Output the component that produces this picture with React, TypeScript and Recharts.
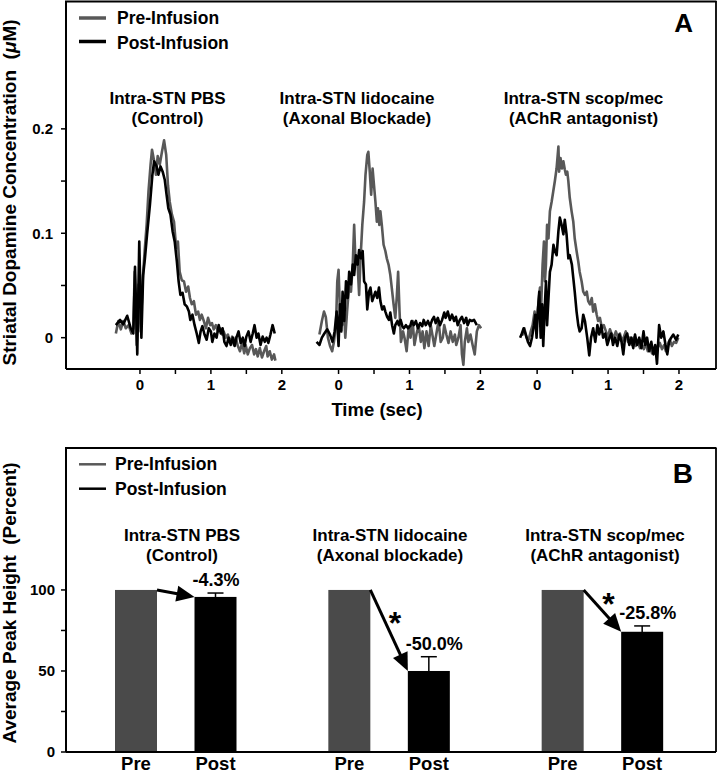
import React from 'react';
import { LineChart, Line, XAxis, YAxis, BarChart, Bar, ErrorBar } from 'recharts';

const FONT = '"Liberation Sans", Arial, Helvetica, sans-serif';
const PRE_LINE = '#585858';
const PRE_BAR = '#4a4a4a';
const POST = '#000000';

type Pt = [number, number];

// ---------- Panel A: striatal dopamine traces (time sec, concentration µM) ----------
const pbsPre: Pt[] = [
  [-0.34, 0.004], [-0.305, 0.016], [-0.27, 0.008], [-0.235, 0.016], [-0.2, 0.009], [-0.16, 0.012], [-0.12, 0.004],
  [-0.094, 0.009], [-0.075, 0.063], [-0.047, -0.007], [-0.02, 0.051], [0.01, 0.006], [0.04, 0.057], [0.066, 0.083],
  [0.094, 0.108], [0.12, 0.14], [0.15, 0.166], [0.17, 0.18], [0.2, 0.169], [0.225, 0.156], [0.25, 0.174], [0.28, 0.166],
  [0.31, 0.178], [0.34, 0.189], [0.37, 0.175], [0.395, 0.146], [0.42, 0.13], [0.45, 0.118], [0.48, 0.111], [0.51, 0.086],
  [0.535, 0.092], [0.56, 0.063], [0.59, 0.055], [0.62, 0.054], [0.65, 0.044], [0.68, 0.049], [0.705, 0.038], [0.73, 0.032],
  [0.76, 0.035], [0.79, 0.022], [0.82, 0.025], [0.845, 0.017], [0.87, 0.022], [0.9, 0.016], [0.93, 0.009], [0.96, 0.019],
  [0.99, 0.012], [1.015, 0.014], [1.04, 0.008], [1.07, 0.012], [1.1, 0.006], [1.13, 0.009], [1.16, 0.003], [1.18, 0.006],
  [1.21, 0.0], [1.24, 0.003], [1.27, -0.005], [1.3, 0.001], [1.325, -0.007], [1.35, 0.0], [1.38, -0.008], [1.41, -0.013],
  [1.44, -0.005], [1.47, -0.015], [1.49, -0.007], [1.52, -0.016], [1.55, -0.01], [1.58, -0.007], [1.61, -0.016],
  [1.635, -0.011], [1.66, -0.018], [1.69, -0.01], [1.72, -0.019], [1.75, -0.013], [1.78, -0.008], [1.8, -0.018],
  [1.83, -0.013], [1.86, -0.021], [1.89, -0.016], [1.91, -0.022],
];
const pbsPost: Pt[] = [
  [-0.34, 0.012], [-0.28, 0.017], [-0.235, 0.013], [-0.18, 0.021], [-0.13, 0.009], [-0.094, 0.004], [-0.07, 0.068],
  [-0.038, -0.016], [-0.01, 0.092], [0.02, 0.0], [0.045, 0.06], [0.07, 0.076], [0.1, 0.099], [0.14, 0.127], [0.175, 0.156],
  [0.2, 0.169], [0.235, 0.164], [0.26, 0.156], [0.29, 0.164], [0.32, 0.159], [0.35, 0.151], [0.375, 0.137], [0.4, 0.124],
  [0.43, 0.118], [0.46, 0.102], [0.49, 0.092], [0.52, 0.073], [0.545, 0.054], [0.57, 0.041], [0.6, 0.043], [0.63, 0.032],
  [0.66, 0.03], [0.69, 0.025], [0.71, 0.017], [0.74, 0.022], [0.77, 0.012], [0.8, 0.004], [0.83, -0.005], [0.855, 0.006],
  [0.88, 0.011], [0.91, 0.003], [0.94, -0.002], [0.97, 0.009], [1.0, 0.006], [1.02, -0.004], [1.05, 0.004], [1.08, 0.0],
  [1.11, 0.012], [1.14, 0.004], [1.165, 0.009], [1.19, -0.004], [1.22, -0.008], [1.25, 0.0], [1.28, -0.007], [1.31, 0.0],
  [1.335, -0.008], [1.36, 0.0], [1.39, 0.006], [1.42, -0.005], [1.45, 0.0], [1.475, -0.008], [1.5, 0.001], [1.53, 0.006],
  [1.56, -0.004], [1.59, 0.004], [1.615, 0.012], [1.645, 0.0], [1.67, 0.004], [1.7, -0.007], [1.73, 0.001], [1.76, -0.004],
  [1.785, 0.0], [1.81, -0.005], [1.84, 0.003], [1.87, 0.012], [1.9, 0.004],
];
const lidoPre: Pt[] = [
  [-0.27, 0.003], [-0.235, 0.016], [-0.205, 0.025], [-0.18, 0.02], [-0.15, 0.0], [-0.12, -0.008], [-0.09, -0.013],
  [-0.065, -0.004], [-0.036, 0.012], [-0.018, 0.054], [0.0, 0.065], [0.02, 0.025], [0.05, 0.012], [0.07, 0.038],
  [0.095, 0.0], [0.12, 0.025], [0.15, 0.051], [0.175, 0.044], [0.2, 0.07], [0.22, 0.108], [0.24, 0.07], [0.265, 0.076],
  [0.29, 0.041], [0.31, 0.076], [0.335, 0.108], [0.36, 0.13], [0.38, 0.156], [0.405, 0.175], [0.42, 0.178], [0.44, 0.159],
  [0.46, 0.137], [0.48, 0.162], [0.5, 0.146], [0.52, 0.13], [0.54, 0.111], [0.555, 0.124], [0.575, 0.108], [0.59, 0.121],
  [0.61, 0.108], [0.635, 0.089], [0.66, 0.083], [0.68, 0.076], [0.705, 0.07], [0.73, 0.06], [0.75, 0.048], [0.776, 0.032],
  [0.8, 0.019], [0.82, 0.038], [0.84, 0.063], [0.86, 0.025], [0.88, -0.004], [0.91, 0.006], [0.93, 0.0], [0.96, -0.013],
  [0.99, 0.011], [1.015, 0.0], [1.045, 0.016], [1.07, -0.007], [1.1, 0.004], [1.13, 0.012], [1.16, -0.004], [1.185, 0.006],
  [1.21, -0.01], [1.24, 0.006], [1.27, -0.008], [1.3, 0.012], [1.33, 0.0], [1.35, -0.008], [1.38, 0.004], [1.41, 0.016],
  [1.44, -0.004], [1.47, 0.0], [1.49, 0.012], [1.52, 0.003], [1.55, -0.005], [1.58, 0.006], [1.61, -0.004], [1.64, 0.003],
  [1.66, -0.007], [1.69, 0.0], [1.72, 0.012], [1.74, -0.016], [1.76, -0.026], [1.78, -0.004], [1.81, 0.009], [1.83, -0.004],
  [1.86, 0.003], [1.89, -0.007], [1.92, -0.016], [1.95, 0.006], [1.98, 0.012], [2.01, 0.009],
];
const lidoPost: Pt[] = [
  [-0.31, -0.004], [-0.27, -0.007], [-0.235, 0.0], [-0.2, 0.004], [-0.16, 0.008], [-0.12, 0.003], [-0.085, -0.004],
  [-0.055, 0.006], [-0.027, 0.025], [0.0, -0.008], [0.02, 0.032], [0.04, 0.006], [0.057, 0.044], [0.08, 0.016],
  [0.105, 0.054], [0.13, 0.038], [0.15, 0.063], [0.175, 0.051], [0.2, 0.07], [0.22, 0.06], [0.245, 0.079], [0.27, 0.07],
  [0.29, 0.084], [0.315, 0.076], [0.34, 0.083], [0.36, 0.054], [0.386, 0.051], [0.405, 0.027], [0.43, 0.044], [0.45, 0.048],
  [0.475, 0.035], [0.5, 0.04], [0.52, 0.044], [0.545, 0.038], [0.57, 0.048], [0.59, 0.035], [0.615, 0.027], [0.64, 0.03],
  [0.66, 0.025], [0.685, 0.02], [0.71, 0.017], [0.73, 0.024], [0.755, 0.012], [0.78, 0.004], [0.8, 0.012], [0.83, 0.016],
  [0.85, 0.012], [0.875, 0.017], [0.9, 0.011], [0.92, 0.009], [0.95, 0.012], [0.98, 0.009], [1.01, 0.011], [1.03, 0.016],
  [1.06, 0.012], [1.09, 0.016], [1.12, 0.009], [1.15, 0.014], [1.18, 0.011], [1.2, 0.017], [1.23, 0.012], [1.26, 0.016],
  [1.29, 0.011], [1.32, 0.017], [1.345, 0.02], [1.37, 0.014], [1.4, 0.019], [1.43, 0.012], [1.46, 0.017], [1.49, 0.024],
  [1.51, 0.019], [1.54, 0.025], [1.57, 0.017], [1.6, 0.022], [1.63, 0.016], [1.655, 0.02], [1.68, 0.012], [1.71, 0.017],
  [1.74, 0.02], [1.77, 0.014], [1.8, 0.019], [1.82, 0.012], [1.85, 0.017], [1.88, 0.016], [1.91, 0.017], [1.95, 0.012],
];
const scopPre: Pt[] = [
  [-0.23, 0.004], [-0.205, 0.003], [-0.18, 0.009], [-0.15, 0.0], [-0.12, -0.002], [-0.09, 0.006], [-0.064, 0.012],
  [-0.036, 0.025], [-0.017, 0.012], [0.0, 0.019], [0.02, 0.035], [0.04, 0.048], [0.058, 0.032], [0.077, 0.07],
  [0.096, 0.092], [0.11, 0.054], [0.124, 0.07], [0.14, 0.108], [0.16, 0.095], [0.18, 0.121], [0.204, 0.13], [0.227, 0.14],
  [0.25, 0.15], [0.274, 0.162], [0.3, 0.183], [0.31, 0.159], [0.33, 0.172], [0.35, 0.162], [0.37, 0.169], [0.39, 0.161],
  [0.406, 0.156], [0.425, 0.159], [0.44, 0.15], [0.46, 0.134], [0.486, 0.121], [0.51, 0.111], [0.53, 0.095], [0.556, 0.083],
  [0.58, 0.073], [0.6, 0.063], [0.627, 0.054], [0.65, 0.044], [0.674, 0.041], [0.7, 0.044], [0.72, 0.035], [0.745, 0.032],
  [0.77, 0.038], [0.79, 0.025], [0.815, 0.032], [0.84, 0.022], [0.86, 0.016], [0.885, 0.019], [0.914, 0.009], [0.94, 0.012],
  [0.97, 0.006], [0.998, 0.0], [1.026, 0.008], [1.054, 0.003], [1.08, 0.0], [1.11, 0.006], [1.14, 0.0], [1.167, 0.004],
  [1.2, -0.004], [1.224, 0.001], [1.25, 0.006], [1.28, -0.004], [1.31, 0.0], [1.337, -0.007], [1.365, 0.0], [1.39, -0.008],
  [1.42, -0.004], [1.45, -0.01], [1.48, -0.007], [1.505, -0.011], [1.53, -0.005], [1.56, -0.013], [1.59, -0.008],
  [1.62, -0.015], [1.646, -0.01], [1.675, -0.016], [1.7, -0.01], [1.73, -0.005], [1.76, -0.011], [1.79, -0.007],
  [1.815, -0.013], [1.84, -0.007], [1.87, -0.002], [1.9, -0.008], [1.93, -0.004], [1.96, -0.005], [1.99, 0.0],
];
const scopPost: Pt[] = [
  [-0.24, 0.0], [-0.215, 0.004], [-0.19, 0.009], [-0.16, 0.003], [-0.13, -0.004], [-0.1, -0.008], [-0.073, 0.0],
  [-0.045, 0.012], [-0.026, 0.022], [-0.008, 0.0], [0.01, 0.025], [0.03, 0.044], [0.05, 0.0], [0.07, 0.032], [0.086, -0.008],
  [0.105, 0.025], [0.125, 0.054], [0.14, 0.012], [0.16, 0.038], [0.18, 0.063], [0.204, 0.07], [0.23, 0.089], [0.25, 0.083],
  [0.275, 0.079], [0.3, 0.102], [0.32, 0.115], [0.345, 0.108], [0.37, 0.099], [0.39, 0.113], [0.415, 0.099], [0.44, 0.076],
  [0.46, 0.079], [0.49, 0.07], [0.51, 0.057], [0.53, 0.044], [0.556, 0.025], [0.58, 0.012], [0.6, 0.006], [0.627, 0.009],
  [0.65, 0.022], [0.674, 0.016], [0.706, 0.0], [0.735, -0.017], [0.76, 0.0], [0.79, 0.009], [0.82, -0.004], [0.85, 0.012],
  [0.876, 0.003], [0.904, 0.012], [0.93, 0.0], [0.96, 0.004], [0.99, -0.007], [1.02, 0.0], [1.045, 0.004], [1.07, -0.007],
  [1.1, 0.0], [1.13, -0.008], [1.16, 0.003], [1.19, -0.004], [1.215, -0.016], [1.24, 0.0], [1.27, 0.004], [1.3, -0.007],
  [1.33, 0.0], [1.355, -0.01], [1.38, 0.003], [1.41, -0.007], [1.44, 0.0], [1.47, -0.01], [1.5, 0.006], [1.525, -0.007],
  [1.55, 0.0], [1.58, -0.013], [1.61, -0.004], [1.64, -0.016], [1.665, -0.007], [1.69, -0.025], [1.72, 0.012], [1.75, 0.0],
  [1.78, 0.006], [1.81, -0.007], [1.835, -0.016], [1.86, -0.004], [1.89, 0.0], [1.92, 0.003], [1.96, -0.002], [1.99, 0.003],
];

const traceGroups = [
  { pre: pbsPre, post: pbsPost },
  { pre: lidoPre, post: lidoPost },
  { pre: scopPre, post: scopPost },
];
const groupOffsets = [0, 2.8, 5.6];
const tickTimes = [0, 0.5, 1, 1.5, 2];
const tickTimeLabels = ['0', '', '1', '', '2'];
const yTicksA = [0, 0.05, 0.1, 0.15, 0.2];
const yTickLabelsA = ['0', '', '0.1', '', '0.2'];

// ---------- Panel B: average peak height (percent) ----------
const barGroups = ['PBS', 'Lidocaine', 'Scop/Mec'];
const preValues = [100, 100, 100];
const postValues = [95.7, 50.0, 74.2];
const postErrors = [2.4, 8.8, 3.6];
const changeLabels = ['-4.3%', '-50.0%', '-25.8%'];
const significance = ['', '*', '*'];
const yTicksB = [0, 25, 50, 75, 100];
const yTickLabelsB = ['0', '', '50', '', '100'];

const BAR_GAP = 37.5;

const xTicks = groupOffsets.flatMap((o) => tickTimes.map((t) => t + o));
const xTickLabels = groupOffsets.flatMap(() => tickTimeLabels);
const toRows = (pts: Pt[], off: number) => pts.map(([t, v]) => ({ x: t + off, v }));

const barData = barGroups.map((g, i) => ({
  group: g,
  pre: preValues[i],
  post: postValues[i],
  err: postErrors[i],
  change: changeLabels[i],
  sig: significance[i],
}));

const tickStyle = { fill: '#000', fontSize: 15, fontWeight: 700, fontFamily: FONT };
const axisLine = { stroke: '#000', strokeWidth: 2 };
const tickLine = { stroke: '#000', strokeWidth: 1.5 };

const labelFont = { fontFamily: FONT, fontWeight: 700 as const, fill: '#000' };

const PreShape = (props: any) => {
  const { x, y, width, height } = props;
  return (
    <g>
      <rect x={x} y={y} width={width} height={height} fill={PRE_BAR} />
      <text x={x + width / 2} y={y + height + 18} textAnchor="middle" fontSize={18.5} {...labelFont}>
        Pre
      </text>
    </g>
  );
};

const PostShape = (props: any) => {
  const { x, y, width, height, payload } = props;
  const base = y + height;
  const unit = height / payload.post;
  const preTop = base - payload.pre * unit;
  const preRight = x - BAR_GAP;
  const dx = x - preRight;
  const dy = y - preTop;
  const len = Math.sqrt(dx * dx + dy * dy);
  const ux = dx / len;
  const uy = dy / len;
  const L = 18;
  const W = 8;
  const bx = x - ux * L;
  const by = y - uy * L;
  const errTop = base - (payload.post + payload.err) * unit;
  const mx = (preRight + x) / 2;
  const my = (preTop + y) / 2;
  return (
    <g>
      <rect x={x} y={y} width={width} height={height} fill={POST} />
      <line x1={preRight} y1={preTop} x2={x - ux * (L - 2)} y2={y - uy * (L - 2)} stroke="#000" strokeWidth={3} />
      <polygon
        points={`${x},${y} ${bx - uy * W},${by + ux * W} ${bx + uy * W},${by - ux * W}`}
        fill="#000"
      />
      <text x={x - 2} y={errTop - 7} textAnchor="start" fontSize={18} {...labelFont}>
        {payload.change}
      </text>
      {payload.sig ? (
        <text x={mx + 6} y={my - 13 + 17} textAnchor="middle" fontSize={32} {...labelFont}>
          {payload.sig}
        </text>
      ) : null}
      <text x={x + width / 2} y={base + 18} textAnchor="middle" fontSize={18.5} {...labelFont}>
        Post
      </text>
    </g>
  );
};

const T = (p: any) => (
  <text {...labelFont} xmlSpace="preserve" style={{ whiteSpace: 'pre' }} {...p} />
);

export default function App() {
  return (
    <div style={{ position: 'absolute', left: 0, top: 0, width: 720, height: 774, background: '#fff', overflow: 'hidden' }}>
      <div style={{ position: 'absolute', left: 0, top: 0 }}>
        <LineChart width={720} height={420} margin={{ top: 2, right: 4, bottom: 0, left: 0 }}>
          <XAxis
            type="number"
            dataKey="x"
            domain={[-1.043, 8.122]}
            allowDataOverflow
            ticks={xTicks}
            interval={0}
            tickFormatter={(v: number) => {
              const i = xTicks.findIndex((t) => Math.abs(t - v) < 1e-6);
              return i >= 0 ? xTickLabels[i] : '';
            }}
            height={51}
            tick={tickStyle}
            tickLine={tickLine}
            axisLine={axisLine}
            tickSize={5}
            tickMargin={5}
          />
          <YAxis
            type="number"
            domain={[-0.03, 0.3215]}
            allowDataOverflow
            ticks={yTicksA}
            interval={0}
            tickFormatter={(v: number) => {
              const i = yTicksA.findIndex((t) => Math.abs(t - v) < 1e-9);
              return i >= 0 ? yTickLabelsA[i] : '';
            }}
            width={66}
            tick={tickStyle}
            tickLine={tickLine}
            axisLine={axisLine}
            tickSize={5}
            tickMargin={8}
          />
          {traceGroups.map((g, i) => (
            <Line
              key={'pre' + i}
              data={toRows(g.pre, groupOffsets[i])}
              dataKey="v"
              type="linear"
              stroke={PRE_LINE}
              strokeWidth={2.6}
              strokeLinejoin="round"
              dot={false}
              isAnimationActive={false}
            />
          ))}
          {traceGroups.map((g, i) => (
            <Line
              key={'post' + i}
              data={toRows(g.post, groupOffsets[i])}
              dataKey="v"
              type="linear"
              stroke={POST}
              strokeWidth={2.6}
              strokeLinejoin="round"
              dot={false}
              isAnimationActive={false}
            />
          ))}
        </LineChart>
      </div>

      <div style={{ position: 'absolute', left: 0, top: 420 }}>
        <BarChart
          width={720}
          height={354}
          data={barData}
          margin={{ top: 28, right: 4, bottom: 0, left: 0 }}
          barGap={BAR_GAP}
          barSize={42}
        >
          <XAxis
            dataKey="group"
            type="category"
            tick={false}
            tickLine={false}
            axisLine={axisLine}
            height={22}
            padding={{ left: 3, right: 7 }}
          />
          <YAxis
            type="number"
            domain={[0, 187.6]}
            ticks={yTicksB}
            interval={0}
            tickFormatter={(v: number) => {
              const i = yTicksB.indexOf(v);
              return i >= 0 ? yTickLabelsB[i] : '';
            }}
            width={66}
            tick={tickStyle}
            tickLine={tickLine}
            axisLine={axisLine}
            tickSize={5}
            tickMargin={6}
          />
          <Bar dataKey="pre" fill={PRE_BAR} shape={PreShape} isAnimationActive={false} />
          <Bar dataKey="post" fill={POST} shape={PostShape} isAnimationActive={false}>
            <ErrorBar dataKey="err" width={8} stroke="#000" strokeWidth={1.5} direction="y" />
          </Bar>
        </BarChart>
      </div>

      <svg width={720} height={774} style={{ position: 'absolute', left: 0, top: 0, pointerEvents: 'none' }}>
        {/* Panel A frame */}
        <line x1={65} y1={1.5} x2={716.5} y2={1.5} stroke="#000" strokeWidth={1.8} />
        <line x1={716} y1={1} x2={716} y2={369} stroke="#000" strokeWidth={1.8} />
        {/* Panel B frame */}
        <line x1={65} y1={448} x2={716.5} y2={448} stroke="#000" strokeWidth={1.8} />
        <line x1={716} y1={448} x2={716} y2={752} stroke="#000" strokeWidth={1.8} />

        {/* Panel A legend */}
        <line x1={79} y1={18} x2={106} y2={18} stroke={PRE_LINE} strokeWidth={3.5} />
        <T x={117} y={24} fontSize={17.5}>Pre-Infusion</T>
        <line x1={79} y1={41.5} x2={106} y2={41.5} stroke={POST} strokeWidth={3.5} />
        <T x={117} y={49} fontSize={17.5}>Post-Infusion</T>
        <T x={693} y={32} fontSize={26} textAnchor="end">A</T>

        {/* Panel A group titles */}
        <T x={167.5} y={104} fontSize={17} textAnchor="middle">Intra-STN PBS</T>
        <T x={167.5} y={124} fontSize={17} textAnchor="middle">(Control)</T>
        <T x={357} y={104} fontSize={17} textAnchor="middle">Intra-STN lidocaine</T>
        <T x={357} y={124} fontSize={17} textAnchor="middle">(Axonal Blockade)</T>
        <T x={583.5} y={104} fontSize={17} textAnchor="middle">Intra-STN scop/mec</T>
        <T x={583.5} y={124} fontSize={17} textAnchor="middle">(AChR antagonist)</T>

        <T x={377} y={416} fontSize={18.5} textAnchor="middle">Time (sec)</T>
        <T transform="translate(16,192.5) rotate(-90)" x={0} y={0} fontSize={19} textAnchor="middle">
          {'Striatal Dopamine Concentration  ('}
          <tspan fontStyle="italic">μ</tspan>
          {'M)'}
        </T>

        {/* Panel B legend */}
        <line x1={79} y1={464.3} x2={106} y2={464.3} stroke={PRE_LINE} strokeWidth={2.5} />
        <T x={115} y={470} fontSize={17.5}>Pre-Infusion</T>
        <line x1={79} y1={488.7} x2={106} y2={488.7} stroke={POST} strokeWidth={2.5} />
        <T x={115} y={495} fontSize={17.5}>Post-Infusion</T>
        <T x={693} y={483} fontSize={28} textAnchor="end">B</T>

        {/* Panel B group titles */}
        <T x={182} y={541} fontSize={17} textAnchor="middle">Intra-STN PBS</T>
        <T x={182} y={561} fontSize={17} textAnchor="middle">(Control)</T>
        <T x={390} y={541} fontSize={17} textAnchor="middle">Intra-STN lidocaine</T>
        <T x={390} y={561} fontSize={17} textAnchor="middle">(Axonal blockade)</T>
        <T x={605} y={541} fontSize={17} textAnchor="middle">Intra-STN scop/mec</T>
        <T x={605} y={561} fontSize={17} textAnchor="middle">(AChR antagonist)</T>

        <T transform="translate(16,603) rotate(-90)" x={0} y={0} fontSize={19} textAnchor="middle">
          {'Average Peak Height  (Percent)'}
        </T>
      </svg>
    </div>
  );
}
